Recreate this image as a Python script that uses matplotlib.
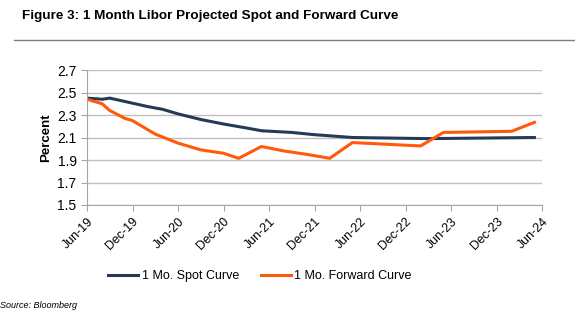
import matplotlib.pyplot as plt
from matplotlib.lines import Line2D

plt.rcParams['font.family'] = ['Liberation Sans', 'DejaVu Sans']

# months after Jun-19
spot_m = [0, 2, 3, 5, 8, 10, 12, 15, 18, 21, 23, 27, 30, 35, 45, 59]
spot_v = [2.45, 2.44, 2.45, 2.42, 2.375, 2.35, 2.31, 2.26, 2.22, 2.185, 2.16,
          2.145, 2.125, 2.10, 2.09, 2.10]

fwd_m = [0, 2, 3, 5, 6, 9, 12, 15, 18, 20, 23, 26, 29, 32, 35, 44, 47, 56, 59]
fwd_v = [2.44, 2.40, 2.34, 2.27, 2.25, 2.13, 2.05, 1.99, 1.96, 1.915, 2.02,
         1.98, 1.95, 1.915, 2.055, 2.025, 2.145, 2.155, 2.235]

tick_labels = ['Jun-19', 'Dec-19', 'Jun-20', 'Dec-20', 'Jun-21', 'Dec-21',
               'Jun-22', 'Dec-22', 'Jun-23', 'Dec-23', 'Jun-24']
y_ticks = [1.5, 1.7, 1.9, 2.1, 2.3, 2.5, 2.7]

spot_col = '#243B55'
fwd_col = '#FF5A0A'
grid_col = '#BFBFBF'

fig = plt.figure(figsize=(5.75, 3.29), dpi=100)
ax = fig.add_axes([87/575, 1 - 205/329, 455/575, 135/329])

ax.plot(spot_m, spot_v, color=spot_col, lw=2.2, solid_joinstyle='round')
ax.plot(fwd_m, fwd_v, color=fwd_col, lw=2.2, solid_joinstyle='round')

ax.set_xlim(0, 60)
ax.set_ylim(1.5, 2.7)
ax.set_yticks(y_ticks)
ax.set_yticklabels(['%.1f' % v for v in y_ticks], fontsize=10)
ax.set_xticks(range(0, 61, 6))
ax.set_xticklabels(tick_labels, rotation=45, ha='right', rotation_mode='anchor',
                   fontsize=9)
ax.set_ylabel('Percent', fontsize=9.5, fontweight='bold', labelpad=4)

ax.grid(axis='y', color=grid_col, lw=1)
ax.set_axisbelow(True)
for s in ['top', 'right']:
    ax.spines[s].set_visible(False)
for s in ['left', 'bottom']:
    ax.spines[s].set_color('#A6A6A6')
ax.tick_params(axis='both', color='#A6A6A6', length=4, direction='out')

# title and rule
fig.text(22/575, 1 - 16/329, 'Figure 3: 1 Month Libor Projected Spot and Forward Curve',
         fontsize=9.7, fontweight='bold', va='center', ha='left')
fig.add_artist(Line2D([14/575, 1], [1 - 40/329, 1 - 40/329], color='#7F7F7F', lw=1))

handles = [Line2D([], [], color=spot_col, lw=2.2),
           Line2D([], [], color=fwd_col, lw=2.2)]
fig.legend(handles, ['1 Mo. Spot Curve', '1 Mo. Forward Curve'],
           loc='center', bbox_to_anchor=(260/575, 1 - 276/329), ncol=2, frameon=False,
           fontsize=9, handlelength=2.4, handletextpad=0.3, columnspacing=1.7)

fig.text(0, 1 - 305/329, 'Source: Bloomberg', fontsize=6.5, style='italic',
         va='center', ha='left')

fig.savefig('out.png', dpi=100)
